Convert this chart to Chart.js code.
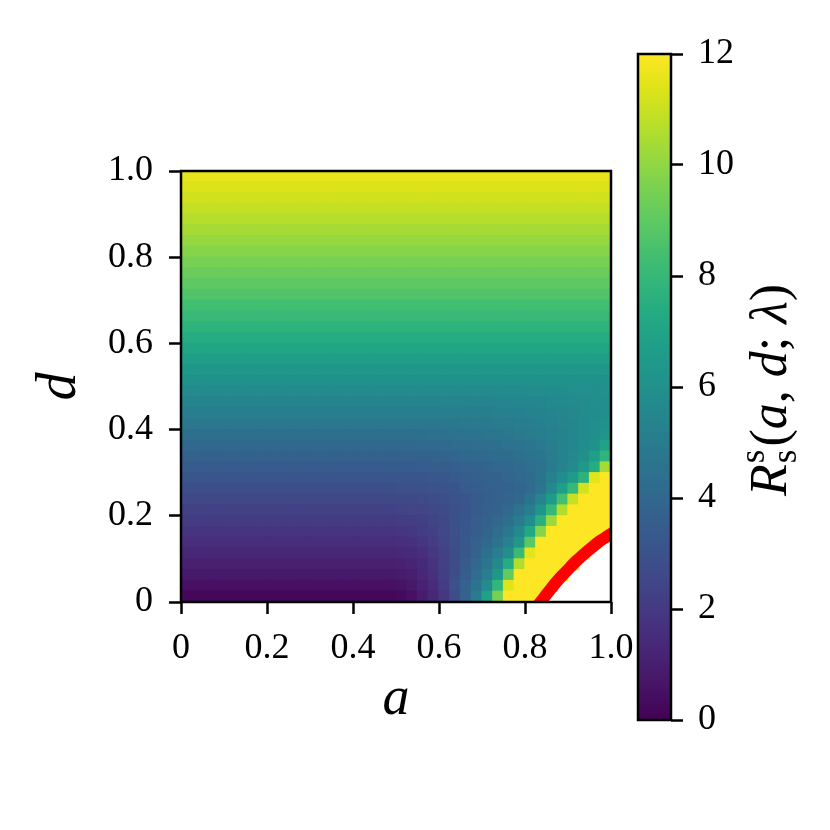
<!DOCTYPE html>
<html>
<head>
<meta charset="utf-8">
<script src="https://cdn.jsdelivr.net/npm/chart.js@4.4.1/dist/chart.umd.min.js"></script>
<style>
  html, body { margin: 0; padding: 0; background: #fff; }
  #wrap { position: relative; width: 830px; height: 830px; }
  canvas { position: absolute; top: 0; }
  #heatmap { left: 0; }
  #colorbar { left: 600px; }
</style>
</head>
<body>
<div id="wrap">
  <canvas id="heatmap" width="830" height="830"></canvas>
  <canvas id="colorbar" width="230" height="830"></canvas>
</div>
<script>
// cell centres along a, cell edges along d
const aCells = [0.0125, 0.0375, 0.0625, 0.0875, 0.1125, 0.1375, 0.1625, 0.1875, 0.2125, 0.2375,
                0.2625, 0.2875, 0.3125, 0.3375, 0.3625, 0.3875, 0.4125, 0.4375, 0.4625, 0.4875,
                0.5125, 0.5375, 0.5625, 0.5875, 0.6125, 0.6375, 0.6625, 0.6875, 0.7125, 0.7375,
                0.7625, 0.7875, 0.8125, 0.8375, 0.8625, 0.8875, 0.9125, 0.9375, 0.9625, 0.9875];
const dEdges = [0, 0.025, 0.05, 0.075, 0.1, 0.125, 0.15, 0.175, 0.2, 0.225, 0.25, 0.275, 0.3, 0.325,
                0.35, 0.375, 0.4, 0.425, 0.45, 0.475, 0.5, 0.525, 0.55, 0.575, 0.6, 0.625, 0.65, 0.675,
                0.7, 0.725, 0.75, 0.775, 0.8, 0.825, 0.85, 0.875, 0.9, 0.925, 0.95, 0.975, 1];

// R_s^s(a, d; lambda), rows from d = 0 (bottom) to d = 1 (top); null = undefined (white)
const rValues = [
  [0.2,0.2,0.2,0.2,0.2,0.2,0.2,0.2,0.2,0.2,0.2,0.2,0.2,0.2,0.2,0.2,0.2,0.2,0.2,0.2,
   0.3,0.5,0.9,1.3,1.9,2.8,3.8,5.0,6.8,9.5,12,12,12,12,null,null,null,null,null,null],
  [0.5,0.5,0.5,0.5,0.5,0.5,0.5,0.5,0.5,0.5,0.5,0.5,0.5,0.5,0.5,0.5,0.5,0.5,0.5,0.5,
   0.6,0.8,1.1,1.5,2.1,2.9,3.7,4.6,5.7,7.9,11.4,12,12,12,12,null,null,null,null,null],
  [0.8,0.8,0.8,0.8,0.8,0.8,0.8,0.8,0.8,0.8,0.8,0.8,0.8,0.8,0.8,0.8,0.8,0.8,0.8,0.8,
   0.9,1.0,1.3,1.7,2.2,2.8,3.5,4.2,5.1,6.4,9.1,12,12,12,12,12,null,null,null,null],
  [1.05,1.05,1.05,1.05,1.05,1.05,1.05,1.05,1.05,1.05,1.05,1.05,1.05,1.05,1.05,1.05,1.05,1.05,1.05,1.05,
   1.1,1.2,1.4,1.8,2.3,2.8,3.4,4.0,4.7,5.6,7.4,10.6,12,12,12,12,12,null,null,null],
  [1.3,1.3,1.3,1.3,1.3,1.3,1.3,1.3,1.3,1.3,1.3,1.3,1.3,1.3,1.3,1.3,1.3,1.3,1.3,1.3,
   1.35,1.45,1.6,1.9,2.3,2.8,3.3,3.8,4.4,5.1,5.9,8.1,11.5,12,12,12,12,12,null,null],
  [1.55,1.55,1.55,1.55,1.55,1.55,1.55,1.55,1.55,1.55,1.55,1.55,1.55,1.55,1.55,1.55,1.55,1.55,1.55,1.55,
   1.6,1.7,1.85,2.1,2.4,2.85,3.3,3.7,4.0,4.6,5.3,6.4,8.9,12,12,12,12,12,12,null],
  [1.8,1.8,1.8,1.8,1.8,1.8,1.8,1.8,1.8,1.8,1.8,1.8,1.8,1.8,1.8,1.8,1.8,1.8,1.8,1.8,
   1.85,1.95,2.1,2.3,2.55,2.9,3.25,3.55,3.85,4.2,4.8,5.6,7.2,9.8,12,12,12,12,12,12],
  [2.05,2.05,2.05,2.05,2.05,2.05,2.05,2.05,2.05,2.05,2.05,2.05,2.05,2.05,2.05,2.05,2.05,2.05,2.05,2.05,
   2.1,2.15,2.25,2.4,2.6,2.9,3.2,3.5,3.75,3.95,4.4,5.0,5.8,7.6,10.2,12,12,12,12,12],
  [2.3,2.3,2.3,2.3,2.3,2.3,2.3,2.3,2.3,2.3,2.3,2.3,2.3,2.3,2.3,2.3,2.3,2.3,2.3,2.3,
   2.35,2.4,2.45,2.55,2.7,2.9,3.15,3.4,3.6,3.8,4.0,4.5,5.1,6.2,8.0,10.6,12,12,12,12],
  [2.55,2.55,2.55,2.55,2.55,2.55,2.55,2.55,2.55,2.55,2.55,2.55,2.55,2.55,2.55,2.55,2.55,2.55,2.55,2.55,
   2.6,2.6,2.65,2.75,2.85,3.0,3.2,3.4,3.55,3.7,3.85,4.05,4.6,5.4,6.6,8.4,11.0,12,12,12],
  [2.85,2.85,2.85,2.85,2.85,2.85,2.85,2.85,2.85,2.85,2.85,2.85,2.85,2.85,2.85,2.85,2.85,2.85,2.85,2.85,
   2.9,2.9,2.95,3.0,3.1,3.2,3.35,3.5,3.6,3.7,3.8,3.9,4.1,4.7,5.6,6.7,8.0,11.2,12,12],
  [3.15,3.15,3.15,3.15,3.15,3.15,3.15,3.15,3.15,3.15,3.15,3.15,3.15,3.15,3.15,3.15,3.15,3.15,3.15,3.15,
   3.2,3.2,3.2,3.25,3.3,3.4,3.5,3.6,3.7,3.8,3.9,4.0,4.2,4.6,5.2,5.8,6.6,7.7,11.5,12],
  [3.45,3.45,3.45,3.45,3.45,3.45,3.45,3.45,3.45,3.45,3.45,3.45,3.45,3.45,3.45,3.45,3.45,3.45,3.45,3.45,
   3.45,3.45,3.5,3.5,3.55,3.6,3.7,3.8,3.85,3.95,4.0,4.1,4.3,4.5,4.9,5.3,5.7,6.5,7.4,10.4],
  [3.75,3.75,3.75,3.75,3.75,3.75,3.75,3.75,3.75,3.75,3.75,3.75,3.75,3.75,3.75,3.75,3.75,3.75,3.75,3.75,
   3.75,3.75,3.8,3.8,3.85,3.9,4.0,4.05,4.1,4.2,4.25,4.35,4.5,4.7,5.0,5.3,5.6,5.9,6.7,7.8],
  [4.05,4.05,4.05,4.05,4.05,4.05,4.05,4.05,4.05,4.05,4.05,4.05,4.05,4.05,4.05,4.05,4.05,4.05,4.05,4.05,
   4.05,4.05,4.1,4.1,4.15,4.2,4.25,4.3,4.35,4.4,4.5,4.6,4.7,4.85,5.05,5.3,5.55,5.8,6.0,6.9],
  [4.4,4.4,4.4,4.4,4.4,4.4,4.4,4.4,4.4,4.4,4.4,4.4,4.4,4.4,4.4,4.4,4.4,4.4,4.4,4.4,
   4.4,4.4,4.4,4.45,4.45,4.5,4.55,4.6,4.65,4.7,4.75,4.85,4.95,5.05,5.2,5.35,5.5,5.7,5.85,6.2],
  [4.75,4.75,4.75,4.75,4.75,4.75,4.75,4.75,4.75,4.75,4.75,4.75,4.75,4.75,4.75,4.75,4.75,4.75,4.75,4.75,
   4.75,4.75,4.75,4.75,4.8,4.8,4.85,4.85,4.9,4.95,5.0,5.05,5.1,5.2,5.3,5.4,5.55,5.7,5.85,6.0],
  [5.05,5.05,5.05,5.05,5.05,5.05,5.05,5.05,5.05,5.05,5.05,5.05,5.05,5.05,5.05,5.05,5.05,5.05,5.05,5.05,
   5.05,5.05,5.05,5.05,5.1,5.1,5.1,5.15,5.15,5.2,5.2,5.25,5.3,5.35,5.45,5.5,5.6,5.7,5.8,5.95],
  [5.4,5.4,5.4,5.4,5.4,5.4,5.4,5.4,5.4,5.4,5.4,5.4,5.4,5.4,5.4,5.4,5.4,5.4,5.4,5.4,
   5.4,5.4,5.4,5.4,5.4,5.4,5.4,5.4,5.4,5.45,5.45,5.5,5.5,5.55,5.6,5.65,5.7,5.75,5.85,5.95],
  [5.7,5.7,5.7,5.7,5.7,5.7,5.7,5.7,5.7,5.7,5.7,5.7,5.7,5.7,5.7,5.7,5.7,5.7,5.7,5.7,
   5.7,5.7,5.7,5.7,5.7,5.7,5.7,5.7,5.7,5.7,5.7,5.7,5.75,5.75,5.8,5.8,5.85,5.9,5.95,6.0],
  [6.0,6.0,6.0,6.0,6.0,6.0,6.0,6.0,6.0,6.0,6.0,6.0,6.0,6.0,6.0,6.0,6.0,6.0,6.0,6.0,
   6.0,6.0,6.0,6.0,6.0,6.0,6.0,6.0,6.0,6.0,6.0,6.0,6.0,6.0,6.0,6.0,6.0,6.0,6.0,6.0],
  [6.35,6.35,6.35,6.35,6.35,6.35,6.35,6.35,6.35,6.35,6.35,6.35,6.35,6.35,6.35,6.35,6.35,6.35,6.35,6.35,
   6.35,6.35,6.35,6.35,6.35,6.35,6.35,6.35,6.35,6.35,6.35,6.35,6.35,6.35,6.35,6.35,6.35,6.35,6.35,6.35],
  [6.7,6.7,6.7,6.7,6.7,6.7,6.7,6.7,6.7,6.7,6.7,6.7,6.7,6.7,6.7,6.7,6.7,6.7,6.7,6.7,
   6.7,6.7,6.7,6.7,6.7,6.7,6.7,6.7,6.7,6.7,6.7,6.7,6.7,6.7,6.7,6.7,6.7,6.7,6.7,6.7],
  [7.05,7.05,7.05,7.05,7.05,7.05,7.05,7.05,7.05,7.05,7.05,7.05,7.05,7.05,7.05,7.05,7.05,7.05,7.05,7.05,
   7.05,7.05,7.05,7.05,7.05,7.05,7.05,7.05,7.05,7.05,7.05,7.05,7.05,7.05,7.05,7.05,7.05,7.05,7.05,7.05],
  [7.4,7.4,7.4,7.4,7.4,7.4,7.4,7.4,7.4,7.4,7.4,7.4,7.4,7.4,7.4,7.4,7.4,7.4,7.4,7.4,
   7.4,7.4,7.4,7.4,7.4,7.4,7.4,7.4,7.4,7.4,7.4,7.4,7.4,7.4,7.4,7.4,7.4,7.4,7.4,7.4],
  [7.75,7.75,7.75,7.75,7.75,7.75,7.75,7.75,7.75,7.75,7.75,7.75,7.75,7.75,7.75,7.75,7.75,7.75,7.75,7.75,
   7.75,7.75,7.75,7.75,7.75,7.75,7.75,7.75,7.75,7.75,7.75,7.75,7.75,7.75,7.75,7.75,7.75,7.75,7.75,7.75],
  [8.05,8.05,8.05,8.05,8.05,8.05,8.05,8.05,8.05,8.05,8.05,8.05,8.05,8.05,8.05,8.05,8.05,8.05,8.05,8.05,
   8.05,8.05,8.05,8.05,8.05,8.05,8.05,8.05,8.05,8.05,8.05,8.05,8.05,8.05,8.05,8.05,8.05,8.05,8.05,8.05],
  [8.35,8.35,8.35,8.35,8.35,8.35,8.35,8.35,8.35,8.35,8.35,8.35,8.35,8.35,8.35,8.35,8.35,8.35,8.35,8.35,
   8.35,8.35,8.35,8.35,8.35,8.35,8.35,8.35,8.35,8.35,8.35,8.35,8.35,8.35,8.35,8.35,8.35,8.35,8.35,8.35],
  [8.7,8.7,8.7,8.7,8.7,8.7,8.7,8.7,8.7,8.7,8.7,8.7,8.7,8.7,8.7,8.7,8.7,8.7,8.7,8.7,
   8.7,8.7,8.7,8.7,8.7,8.7,8.7,8.7,8.7,8.7,8.7,8.7,8.7,8.7,8.7,8.7,8.7,8.7,8.7,8.7],
  [9.0,9.0,9.0,9.0,9.0,9.0,9.0,9.0,9.0,9.0,9.0,9.0,9.0,9.0,9.0,9.0,9.0,9.0,9.0,9.0,
   9.0,9.0,9.0,9.0,9.0,9.0,9.0,9.0,9.0,9.0,9.0,9.0,9.0,9.0,9.0,9.0,9.0,9.0,9.0,9.0],
  [9.25,9.25,9.25,9.25,9.25,9.25,9.25,9.25,9.25,9.25,9.25,9.25,9.25,9.25,9.25,9.25,9.25,9.25,9.25,9.25,
   9.25,9.25,9.25,9.25,9.25,9.25,9.25,9.25,9.25,9.25,9.25,9.25,9.25,9.25,9.25,9.25,9.25,9.25,9.25,9.25],
  [9.5,9.5,9.5,9.5,9.5,9.5,9.5,9.5,9.5,9.5,9.5,9.5,9.5,9.5,9.5,9.5,9.5,9.5,9.5,9.5,
   9.5,9.5,9.5,9.5,9.5,9.5,9.5,9.5,9.5,9.5,9.5,9.5,9.5,9.5,9.5,9.5,9.5,9.5,9.5,9.5],
  [9.8,9.8,9.8,9.8,9.8,9.8,9.8,9.8,9.8,9.8,9.8,9.8,9.8,9.8,9.8,9.8,9.8,9.8,9.8,9.8,
   9.8,9.8,9.8,9.8,9.8,9.8,9.8,9.8,9.8,9.8,9.8,9.8,9.8,9.8,9.8,9.8,9.8,9.8,9.8,9.8],
  [10.1,10.1,10.1,10.1,10.1,10.1,10.1,10.1,10.1,10.1,10.1,10.1,10.1,10.1,10.1,10.1,10.1,10.1,10.1,10.1,
   10.1,10.1,10.1,10.1,10.1,10.1,10.1,10.1,10.1,10.1,10.1,10.1,10.1,10.1,10.1,10.1,10.1,10.1,10.1,10.1],
  [10.4,10.4,10.4,10.4,10.4,10.4,10.4,10.4,10.4,10.4,10.4,10.4,10.4,10.4,10.4,10.4,10.4,10.4,10.4,10.4,
   10.4,10.4,10.4,10.4,10.4,10.4,10.4,10.4,10.4,10.4,10.4,10.4,10.4,10.4,10.4,10.4,10.4,10.4,10.4,10.4],
  [10.65,10.65,10.65,10.65,10.65,10.65,10.65,10.65,10.65,10.65,10.65,10.65,10.65,10.65,10.65,10.65,10.65,10.65,10.65,10.65,
   10.65,10.65,10.65,10.65,10.65,10.65,10.65,10.65,10.65,10.65,10.65,10.65,10.65,10.65,10.65,10.65,10.65,10.65,10.65,10.65],
  [10.9,10.9,10.9,10.9,10.9,10.9,10.9,10.9,10.9,10.9,10.9,10.9,10.9,10.9,10.9,10.9,10.9,10.9,10.9,10.9,
   10.9,10.9,10.9,10.9,10.9,10.9,10.9,10.9,10.9,10.9,10.9,10.9,10.9,10.9,10.9,10.9,10.9,10.9,10.9,10.9],
  [11.15,11.15,11.15,11.15,11.15,11.15,11.15,11.15,11.15,11.15,11.15,11.15,11.15,11.15,11.15,11.15,11.15,11.15,11.15,11.15,
   11.15,11.15,11.15,11.15,11.15,11.15,11.15,11.15,11.15,11.15,11.15,11.15,11.15,11.15,11.15,11.15,11.15,11.15,11.15,11.15],
  [11.35,11.35,11.35,11.35,11.35,11.35,11.35,11.35,11.35,11.35,11.35,11.35,11.35,11.35,11.35,11.35,11.35,11.35,11.35,11.35,
   11.35,11.35,11.35,11.35,11.35,11.35,11.35,11.35,11.35,11.35,11.35,11.35,11.35,11.35,11.35,11.35,11.35,11.35,11.35,11.35],
  [11.55,11.55,11.55,11.55,11.55,11.55,11.55,11.55,11.55,11.55,11.55,11.55,11.55,11.55,11.55,11.55,11.55,11.55,11.55,11.55,
   11.55,11.55,11.55,11.55,11.55,11.55,11.55,11.55,11.55,11.55,11.55,11.55,11.55,11.55,11.55,11.55,11.55,11.55,11.55,11.55]
];

// red boundary curve (a, d)
const redA = [0.831, 0.840, 0.858, 0.877, 0.897, 0.916, 0.936, 0.955, 0.974, 0.994, 1.005];
const redD = [-0.007, 0.005, 0.028, 0.051, 0.072, 0.092, 0.110, 0.126, 0.141, 0.154, 0.161];

const aTicks = [0, 0.2, 0.4, 0.6, 0.8, 1.0];
const dTicks = [0, 0.2, 0.4, 0.6, 0.8, 1.0];
const rTicks = [0, 2, 4, 6, 8, 10, 12];
const rRange = [0, 12];

// viridis colormap
const viridisStops = ["#440154", "#471365", "#482475", "#463480", "#414487", "#3b528b", "#355f8d",
  "#2f6c8e", "#2a788e", "#25848e", "#21918c", "#1e9c89", "#22a884", "#2fb47c", "#44bf70",
  "#5ec962", "#7ad151", "#9bd93c", "#bddf26", "#dfe318", "#fde725"];

function hexRgb(h) {
    return [parseInt(h.slice(1, 3), 16), parseInt(h.slice(3, 5), 16), parseInt(h.slice(5, 7), 16)];
}

function viridis(v) {
    let t = (v - rRange[0]) / (rRange[1] - rRange[0]);
    t = Math.max(0, Math.min(1, t));
    const pos = t * (viridisStops.length - 1);
    const k = Math.min(Math.floor(pos), viridisStops.length - 2);
    const f = pos - k;
    const c0 = hexRgb(viridisStops[k]), c1 = hexRgb(viridisStops[k + 1]);
    const c = c0.map((x, n) => Math.round(x + (c1[n] - x) * f));
    return "rgb(" + c.join(",") + ")";
}

const serif = "'Liberation Serif', 'Times New Roman', serif";
const tickFont = { family: serif, size: 36 };
const fmt = v => v === 0 ? "0" : v.toFixed(1);

const frame = {
    id: "frame",
    afterDatasetsDraw(chart) {
        const { ctx, chartArea: c } = chart;
        ctx.save();
        ctx.strokeStyle = "#000";
        ctx.lineWidth = 2.5;
        ctx.strokeRect(c.left, c.top, c.right - c.left, c.bottom - c.top);
        ctx.restore();
    }
};

const cellSets = rValues.map((row, j) => {
    const pts = [];
    const cols = [];
    row.forEach((v, i) => {
        if (v === null) return;
        pts.push({ x: aCells[i], y: [dEdges[j], dEdges[j + 1]] });
        cols.push(viridis(v));
    });
    return {
        type: "bar",
        data: pts,
        backgroundColor: cols,
        borderWidth: 0,
        barPercentage: 1,
        categoryPercentage: 1,
        grouped: false,
        inflateAmount: 0.6,
        order: 1
    };
});

const redSet = {
    type: "line",
    data: redA.map((a, k) => ({ x: a, y: redD[k] })),
    borderColor: "#ff0000",
    borderWidth: 12,
    pointRadius: 0,
    tension: 0.4,
    fill: false,
    clip: 0,
    order: 0
};

new Chart(document.getElementById("heatmap"), {
    type: "bar",
    data: { datasets: [redSet].concat(cellSets) },
    options: {
        responsive: false,
        animation: false,
        events: [],
        layout: { padding: { left: 0, right: 219, top: 171, bottom: 98 } },
        plugins: { legend: { display: false }, tooltip: { enabled: false } },
        scales: {
            x: {
                type: "linear", min: 0, max: 1, offset: false,
                afterBuildTicks: s => { s.ticks = aTicks.map(v => ({ value: v })); },
                afterFit: s => { s.height = 130; },
                ticks: { font: tickFont, color: "#000", padding: 13, maxRotation: 0, autoSkip: false, callback: fmt },
                grid: { drawOnChartArea: false, offset: false, tickLength: 12, tickWidth: 2.5, tickColor: "#000" },
                border: { display: false },
                title: { display: true, text: "a", color: "#000", padding: { top: 0, bottom: 0 },
                         font: { family: serif, size: 54, style: "italic" } }
            },
            y: {
                type: "linear", min: 0, max: 1,
                afterBuildTicks: s => { s.ticks = dTicks.map(v => ({ value: v })); },
                afterFit: s => { s.width = 181; },
                ticks: { font: tickFont, color: "#000", padding: 16, autoSkip: false, callback: fmt },
                grid: { drawOnChartArea: false, tickLength: 12, tickWidth: 2.5, tickColor: "#000" },
                border: { display: false },
                title: { display: true, text: "d", color: "#000", padding: { top: 27, bottom: 0 },
                         font: { family: serif, size: 56, style: "italic" } }
            }
        }
    },
    plugins: [frame]
});

// colour bar label  R_s^s(a, d; λ)
const cbLabel = {
    id: "cbLabel",
    afterDraw(chart) {
        const ctx = chart.ctx;
        const size = 52;
        const it = "italic " + size + "px " + serif;
        const up = "normal " + size + "px " + serif;
        const sm = "normal " + Math.round(size * 0.68) + "px " + serif;
        const parts = [
            { t: "R", f: it }, { t: "s", f: sm, stack: true }, { t: "(", f: up }, { t: "a", f: it },
            { t: ", ", f: up }, { t: "d", f: it }, { t: "; ", f: up }, { t: "λ", f: it }, { t: ")", f: up }
        ];
        ctx.save();
        let total = 0;
        parts.forEach(p => { ctx.font = p.f; p.w = ctx.measureText(p.t).width + (p.stack ? 4 : 0); total += p.w; });
        ctx.translate(186, 390);
        ctx.rotate(-Math.PI / 2);
        ctx.fillStyle = "#000";
        ctx.textBaseline = "alphabetic";
        let x = -total / 2;
        parts.forEach(p => {
            ctx.font = p.f;
            if (p.stack) {
                ctx.fillText(p.t, x + 1, -size * 0.42);
                ctx.fillText(p.t, x + 1, size * 0.2);
            } else {
                ctx.fillText(p.t, x, 0);
            }
            x += p.w;
        });
        ctx.restore();
    }
};

new Chart(document.getElementById("colorbar"), {
    type: "bar",
    data: {
        labels: ["R"],
        datasets: [{
            data: [rRange],
            borderWidth: 0,
            barPercentage: 1,
            categoryPercentage: 1,
            backgroundColor: ctx => {
                const area = ctx.chart.chartArea;
                if (!area) return viridisStops[0];
                const g = ctx.chart.ctx.createLinearGradient(0, area.bottom, 0, area.top);
                viridisStops.forEach((c, k) => g.addColorStop(k / (viridisStops.length - 1), c));
                return g;
            }
        }]
    },
    options: {
        responsive: false,
        animation: false,
        events: [],
        layout: { padding: { left: 38, right: 79, top: 54, bottom: 110 } },
        plugins: { legend: { display: false }, tooltip: { enabled: false } },
        scales: {
            x: { display: false },
            y: {
                position: "right", min: rRange[0], max: rRange[1],
                afterBuildTicks: s => { s.ticks = rTicks.map(v => ({ value: v })); },
                afterFit: s => { s.width = 80; },
                ticks: { font: tickFont, color: "#000", padding: 15, autoSkip: false },
                grid: { drawOnChartArea: false, tickLength: 12, tickWidth: 2.5, tickColor: "#000" },
                border: { display: false }
            }
        }
    },
    plugins: [frame, cbLabel]
});
</script>
</body>
</html>
